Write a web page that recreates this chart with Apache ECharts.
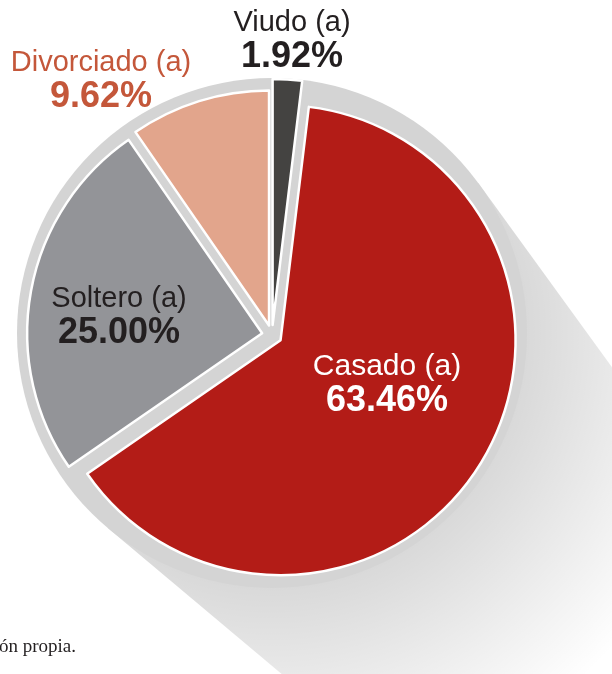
<!DOCTYPE html>
<html>
<head>
<meta charset="utf-8">
<script src="https://cdn.jsdelivr.net/npm/echarts@6/dist/echarts.min.js"></script>
<style>
html,body{margin:0;padding:0;background:#fff;}
#main{width:612px;height:674px;}
</style>
</head>
<body>
<div id="main"></div>
<script>
var myChart = echarts.init(document.getElementById('main'));

// datos
var estados = ['Viudo (a)', 'Casado (a)', 'Soltero (a)', 'Divorciado (a)'];
var porcentajes = [1.92, 63.46, 25.00, 9.62];
var colores = ['#444341', '#b31c17', '#939498', '#e2a58c'];
var tonoEtiqueta = ['d', 'w', 'd', 'r'];
var posEtiqueta = [[292, 40], [387, 384], [119, 316], [101, 80]];

var cx = 272, cy = 335;   // centro de las porciones
var dx = 272, dy = 333, dR = 255;  // disco gris de fondo

// sombra larga hacia abajo-derecha
var a1 = 54 * Math.PI / 180, a2 = 40 * Math.PI / 180, L = 520;
var t1 = [dx + dR * Math.sin(a1), dy - dR * Math.cos(a1)];
var t2 = [dx - dR * Math.sin(a2), dy + dR * Math.cos(a2)];
var sombra = [
  t1,
  [t1[0] + L * Math.cos(a1), t1[1] + L * Math.sin(a1)],
  [t2[0] + L * Math.cos(a2), t2[1] + L * Math.sin(a2)],
  t2,
  [dx, dy]
];

function datos(soloViudo) {
  var temp = [];
  for (var i = 0; i < estados.length; i++) {
    var visible = soloViudo ? i === 0 : i !== 0;
    temp.push({
      name: estados[i],
      value: porcentajes[i],
      selected: visible,
      itemStyle: visible ? { color: colores[i] } : { color: 'rgba(0,0,0,0)', borderWidth: 0 }
    });
  }
  return temp;
}

var fuente = 'Liberation Sans, Arial, Helvetica, sans-serif';
var rich = {
  nd: { fontSize: 29, lineHeight: 34, fill: '#231f20', fontFamily: fuente },
  vd: { fontSize: 36, lineHeight: 34, fontWeight: 'bold', fill: '#231f20', fontFamily: fuente },
  nw: { fontSize: 30, lineHeight: 34, fill: '#ffffff', fontFamily: fuente },
  vw: { fontSize: 36, lineHeight: 34, fontWeight: 'bold', fill: '#ffffff', fontFamily: fuente },
  nr: { fontSize: 29, lineHeight: 34, fill: '#c4573a', fontFamily: fuente },
  vr: { fontSize: 36, lineHeight: 34, fontWeight: 'bold', fill: '#c4573a', fontFamily: fuente }
};

// etiquetas de cada porción
var etiquetas = [];
for (var i = 0; i < estados.length; i++) {
  var t = tonoEtiqueta[i];
  etiquetas.push({
    type: 'text',
    silent: true,
    z: 100,
    x: posEtiqueta[i][0],
    y: posEtiqueta[i][1],
    style: {
      text: '{n' + t + '|' + estados[i] + '}\n{v' + t + '|' + porcentajes[i].toFixed(2) + '%}',
      rich: rich,
      align: 'center',
      verticalAlign: 'middle'
    }
  });
}

var option = {
  backgroundColor: '#ffffff',
  animation: false,
  graphic: [
    {
      type: 'polygon',
      z: -10,
      silent: true,
      shape: { points: sombra },
      style: {
        fill: new echarts.graphic.RadialGradient(dx, dy, dR + 210, [
          { offset: 0, color: 'rgba(0,0,0,0.17)' },
          { offset: dR / (dR + 210), color: 'rgba(0,0,0,0.15)' },
          { offset: 1, color: 'rgba(0,0,0,0)' }
        ], true)
      }
    },
    {
      type: 'circle',
      z: -5,
      silent: true,
      shape: { cx: dx, cy: dy, r: dR },
      style: { fill: '#d4d4d4' }
    },
    {
      type: 'text',
      silent: true,
      left: -1,
      top: 638,
      style: {
        text: 'ón propia.',
        fontFamily: 'Liberation Serif, Times New Roman, serif',
        fontSize: 19,
        fill: '#231f20'
      }
    }
  ].concat(etiquetas),
  series: [
    {
      name: 'estado',
      type: 'pie',
      center: [cx, cy],
      radius: 235,
      startAngle: 90,
      clockwise: true,
      selectedMode: 'multiple',
      selectedOffset: 10,
      silent: true,
      emphasis: { disabled: true },
      itemStyle: { borderColor: '#ffffff', borderWidth: 2.5 },
      label: { show: false },
      labelLine: { show: false },
      data: datos(false)
    },
    {
      name: 'viudo',
      type: 'pie',
      center: [cx, cy],
      radius: 246,
      startAngle: 90,
      clockwise: true,
      selectedMode: 'multiple',
      selectedOffset: 10,
      silent: true,
      emphasis: { disabled: true },
      itemStyle: { borderColor: '#ffffff', borderWidth: 2.5 },
      label: { show: false },
      labelLine: { show: false },
      data: datos(true)
    }
  ]
};

myChart.setOption(option);
</script>
</body>
</html>
